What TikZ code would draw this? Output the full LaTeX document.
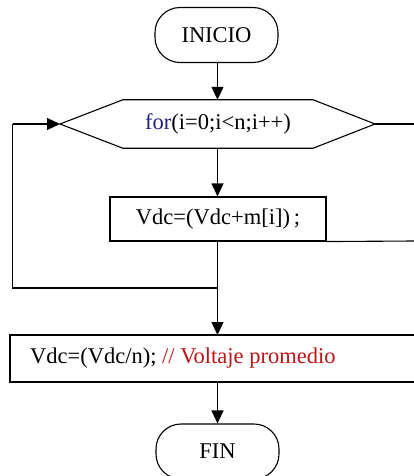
\documentclass[tikz,border=0pt]{standalone}
\usepackage{fontspec}
\setmainfont{Liberation Serif}
\usetikzlibrary{arrows.meta}
\definecolor{kwblue}{RGB}{30,30,140}
\definecolor{cmred}{RGB}{190,20,20}
\begin{document}
\begin{tikzpicture}[x=1pt,y=-1pt,
  every node/.style={font=\fontsize{22.5}{24}\selectfont, inner sep=0pt},
  lin/.style={line width=1.1pt, draw=black},
  arr/.style={lin, -{Triangle[width=12pt,length=13pt]}},
  term/.style={draw, line width=1.1pt, rounded corners=25pt, minimum width=123pt, minimum height=55pt},
  procbox/.style={draw, line width=1.1pt, minimum width=216pt, minimum height=44pt}]
\useasboundingbox (0,0) rectangle (414,476);
% start
\node[term] (inicio) at (216.5,35) {INICIO};
% for hexagon
\node[minimum width=190pt, minimum height=48pt] (for) at (218,124) {\textcolor{kwblue}{for}(i=0;i<n;i++)};
\coordinate (forL) at (60,124);
\coordinate (forR) at (375,124);
\draw[lin] (forL) -- (for.north west) -- (for.north east) -- (forR) -- (for.south east) -- (for.south west) -- cycle;
\coordinate (exitR) at (414,124);
\draw[lin] (forR) -- (exitR);
% body
\node[procbox] (body) at (218,219) {Vdc=(Vdc+m[i])\,;};
\coordinate (bodyR) at (414,241);
\draw[lin] (body.south east) -- (bodyR);
% junction and loop back
\coordinate (junc) at (217.5,288);
\coordinate (loopBL) at (12.5,288);
\coordinate (loopTL) at (12.5,124);
% average box
\coordinate (avgTL) at (10,335);
\coordinate (avgBL) at (10,382);
\coordinate (avgTR) at (414,335);
\coordinate (avgBR) at (414,382);
\coordinate (avgTop) at (217.5,335);
\coordinate (avgBot) at (217.5,382);
\draw[lin] (avgTR) -- (avgTL) -- (avgBL) -- (avgBR);
\node[anchor=west] (avg) at (30,358.5) {Vdc=(Vdc/n); \textcolor{cmred}{// Voltaje promedio}};
% end
\node[term] (fin) at (217.5,451.5) {FIN};
% connectors
\draw[arr] (inicio.south -| junc) -- (for.north -| junc);
\draw[arr] (for.south -| junc) -- (body.north -| junc);
\draw[lin] (body.south -| junc) -- (junc);
\draw[lin] (junc) -- (loopBL) -- (loopTL);
\draw[arr] (loopTL) -- (forL);
\draw[arr] (junc) -- (avgTop);
\draw[arr] (avgBot) -- (fin.north);
\end{tikzpicture}
\end{document}
